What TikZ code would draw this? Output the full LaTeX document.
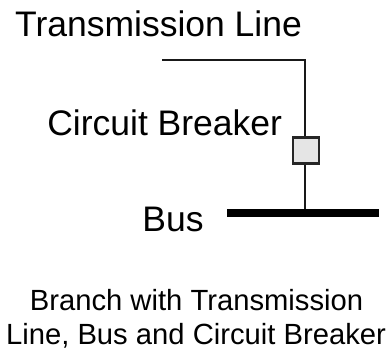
\documentclass[tikz,border=0pt]{standalone}
\usepackage{fontspec}
\setmainfont{Liberation Sans}
\tikzset{lbl/.style={inner sep=0pt,anchor=base,font=\fontsize{35.5pt}{40pt}\selectfont},
captext/.style={inner sep=0pt,anchor=base,font=\fontsize{29.2pt}{34pt}\selectfont}}
\begin{document}
\begin{tikzpicture}[x=1pt,y=-1pt,line join=miter]
\useasboundingbox (0,0) rectangle (390,350);
\node[lbl] (t) at (158.5,37) {Transmission Line};
\node[lbl] (c) at (164.7,135) {Circuit Breaker};
\node[lbl] (b) at (173,231.7) {Bus};
\node[captext] (c1) at (196.5,310.7) {Branch with Transmission};
\node[captext] (c2) at (196,344) {Line, Bus and Circuit Breaker};
\coordinate (a) at (162,60);
\coordinate (k) at (305,60);
\node[draw=black!85,fill=black!10,line width=2.2pt,minimum size=26pt,inner sep=0pt] (cb) at (306,150.5) {};
\coordinate (l) at (227,213);
\coordinate (r) at (379,213);
\coordinate (j) at (305,213);
\draw[line width=2.7pt,black!90] (a) -- (k) -- (k |- cb.north);
\draw[line width=2.7pt,black!90] (k |- cb.south) -- (j);
\draw[line width=7.5pt] (l) -- (r);
\end{tikzpicture}
\end{document}
